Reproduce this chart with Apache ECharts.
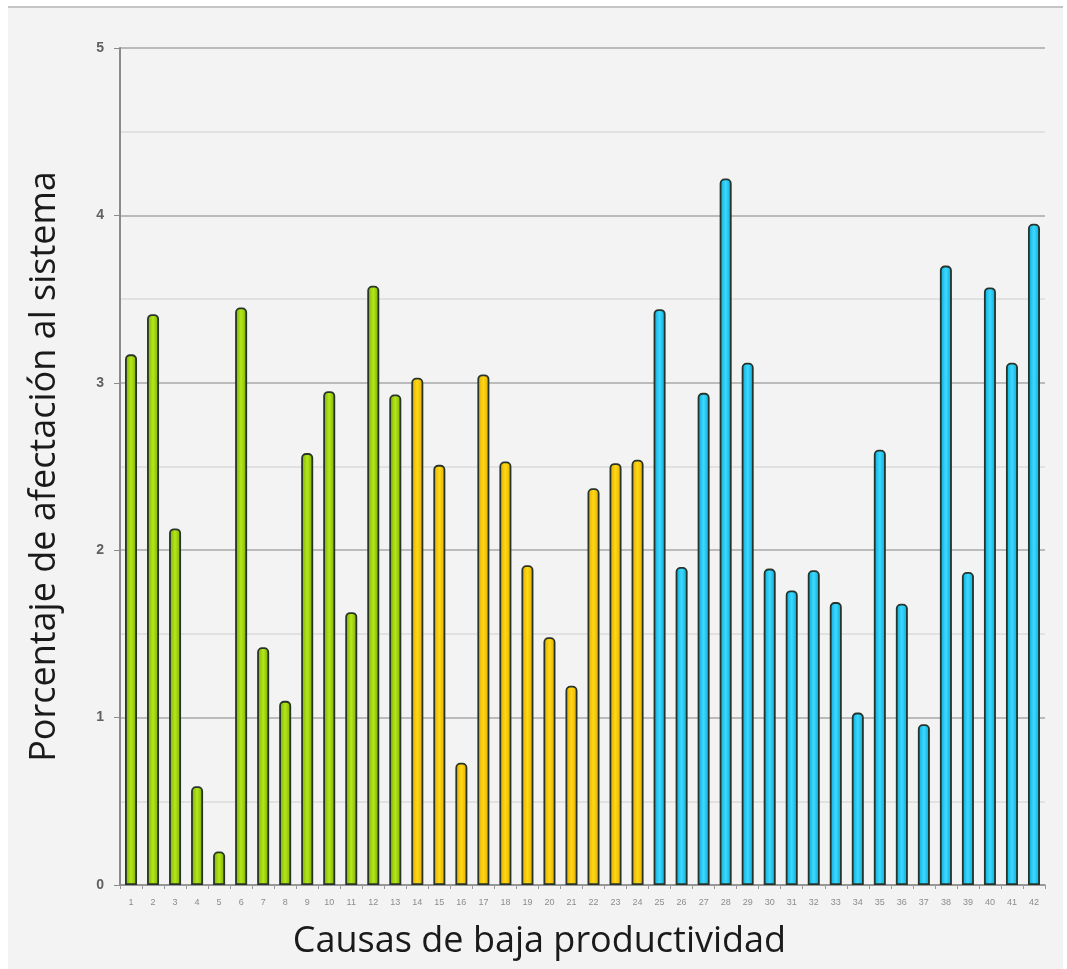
<!DOCTYPE html>
<html>
<head>
<meta charset="utf-8">
<script src="https://cdn.jsdelivr.net/npm/echarts@6/dist/echarts.min.js"></script>
<style>
html,body{margin:0;padding:0;background:#ffffff;overflow:hidden;}
#frame{position:absolute;left:8px;top:6px;width:1055px;height:963px;background:#f3f3f3;border-top:2px solid #c4c4c4;}
#chart{position:absolute;left:0;top:0;width:1067px;height:969px;}
</style>
</head>
<body>
<div id="frame"></div>
<div id="chart"></div>
<script>
// Data
const categories = ["1","2","3","4","5","6","7","8","9","10","11","12","13","14","15","16","17","18","19","20","21","22","23","24","25","26","27","28","29","30","31","32","33","34","35","36","37","38","39","40","41","42"];
const values = [3.17,3.41,2.13,0.59,0.20,3.45,1.42,1.10,2.58,2.95,1.63,3.58,2.93,3.03,2.51,0.73,3.05,2.53,1.91,1.48,1.19,2.37,2.52,2.54,3.44,1.90,2.94,4.22,3.12,1.89,1.76,1.88,1.69,1.03,2.60,1.68,0.96,3.70,1.87,3.57,3.12,3.95];
const groups = ["g","g","g","g","g","g","g","g","g","g","g","g","g","y","y","y","y","y","y","y","y","y","y","y","c","c","c","c","c","c","c","c","c","c","c","c","c","c","c","c","c","c"];
const yTicks = [0,1,2,3,4,5];
const yTitle = "Porcentaje de afectación al sistema";
const xTitle = "Causas de baja productividad";

const palette = {
  g: ["#7aa800", "#b4e81a"],
  y: ["#e0a800", "#ffd814"],
  c: ["#00a8d8", "#3fd8ff"]
};
function grad(k){
  const p = palette[k];
  return new echarts.graphic.LinearGradient(0,0,1,0,[
    {offset:0,color:p[0]},{offset:0.5,color:p[1]},{offset:1,color:p[0]}
  ]);
}
const seriesData = values.map((v,i)=>({
  value:v,
  itemStyle:{color:grad(groups[i])}
}));

const chart = echarts.init(document.getElementById('chart'), null, {renderer:'canvas', width:1067, height:969});
chart.setOption({
  backgroundColor:'transparent',
  animation:false,
  grid:{left:120,right:22,top:48,bottom:84,containLabel:false},
  xAxis:{
    type:'category',
    data:categories,
    name:xTitle,
    nameLocation:'middle',
    nameGap:39,
    nameTextStyle:{fontFamily:'Open Sans, sans-serif',fontSize:36,color:'#1a1a1a',padding:[0,86,0,0]},
    axisLine:{lineStyle:{color:'#8a8a8a',width:1.5}},
    axisTick:{show:true,length:4,lineStyle:{color:'#9a9a9a'}},
    axisLabel:{interval:0,fontSize:9,color:'#8c8c8c',margin:13,fontFamily:'Liberation Sans Narrow, sans-serif'}
  },
  yAxis:{
    type:'value',
    min:0,max:5,interval:1,
    name:yTitle,
    nameLocation:'middle',
    nameGap:57,
    nameRotate:90,
    nameTextStyle:{fontFamily:'Open Sans, sans-serif',fontSize:36,color:'#1a1a1a'},
    axisLine:{show:true,lineStyle:{color:'#8a8a8a',width:2}},
    axisTick:{show:true,length:6,lineStyle:{color:'#8a8a8a'}},
    axisLabel:{fontSize:14,fontWeight:'bold',color:'#606060',margin:16,
      formatter:(v)=> yTicks.includes(v)? String(v):''},
    splitLine:{show:true,lineStyle:{color:'#a8a8a8',width:1.5}},
    minorTick:{show:false,splitNumber:2},
    minorSplitLine:{show:true,lineStyle:{color:'#dcdcdc',width:1.5}}
  },
  series:[{
    type:'bar',
    data:seriesData,
    barWidth:12,
    itemStyle:{borderColor:'#26342a',borderWidth:1.8,borderRadius:[4,4,0,0]}
  }]
});
</script>
</body>
</html>
